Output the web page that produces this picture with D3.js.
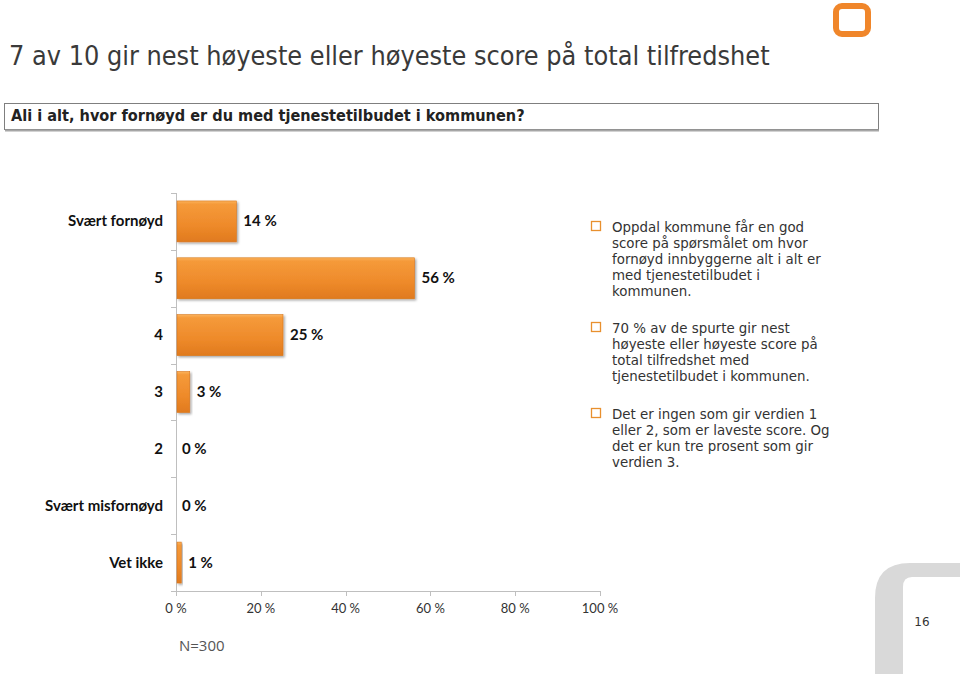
<!DOCTYPE html>
<html><head><meta charset="utf-8">
<script src="https://cdn.jsdelivr.net/npm/d3@7"></script>
<style>body{margin:0;background:#fff}svg{display:block}</style>
</head><body>
<svg id="c" width="960" height="674"></svg>
<script>
const categories = ["Svært fornøyd","5","4","3","2","Svært misfornøyd","Vet ikke"];
const values = [14,56,25,3,0,0,1];
const xTicks = [0,20,40,60,80,100];
const titleText = "7 av 10 gir nest høyeste eller høyeste score på total tilfredshet";
const questionText = "Ali i alt, hvor fornøyd er du med tjenestetilbudet i kommunen?";
const bullets = [
 ["Oppdal kommune får en god","score på spørsmålet om hvor","fornøyd innbyggerne alt i alt er","med tjenestetilbudet i","kommunen."],
 ["70 % av de spurte gir nest","høyeste eller høyeste score på","total tilfredshet med","tjenestetilbudet i kommunen."],
 ["Det er ingen som gir verdien 1","eller 2, som er laveste score. Og","det er kun tre prosent som gir","verdien 3."]
];
const nText = "N=300";
const pageNo = "16";

const svg = d3.select("#c");
const defs = svg.append("defs");
const g = defs.append("linearGradient").attr("id","bar").attr("x1",0).attr("y1",0).attr("x2",0).attr("y2",1);
g.append("stop").attr("offset","0").attr("stop-color","#fbb25a");
g.append("stop").attr("offset","0.08").attr("stop-color","#f59a3a");
g.append("stop").attr("offset","0.6").attr("stop-color","#ee8a2a");
g.append("stop").attr("offset","1").attr("stop-color","#e07a1e");
const f = defs.append("filter").attr("id","sh").attr("x","-10%").attr("y","-20%").attr("width","130%").attr("height","160%");
f.append("feDropShadow").attr("dx",1.5).attr("dy",1.5).attr("stdDeviation",1.2).attr("flood-color","#000").attr("flood-opacity",0.35);

// logo
svg.append("rect").attr("x",836).attr("y",6).attr("width",32).attr("height",28).attr("rx",6)
  .attr("fill","none").attr("stroke","#f0862a").attr("stroke-width",6);

// title
const t = svg.append("text").attr("x",9).attr("y",65).attr("fill","#3a3a3a")
  .style("font-family","'DejaVu Sans Condensed','DejaVu Sans'").style("font-size","26px").text(titleText);
const tw = t.node().getComputedTextLength();
t.style("font-size",(26*761/tw)+"px");

// question box
svg.append("rect").attr("x",4.5).attr("y",103.5).attr("width",874).attr("height",26)
  .attr("fill","#fff").attr("stroke","#7f7f7f").attr("stroke-width",1);
svg.append("line").attr("x1",5).attr("x2",879).attr("y1",130.5).attr("y2",130.5).attr("stroke","#a6a6a6").attr("stroke-width",2);
const q = svg.append("text").attr("x",11).attr("y",121).attr("fill","#222")
  .style("font-family","'Liberation Sans Narrow','DejaVu Sans Condensed'").style("font-weight","bold").style("font-size","15px").text(questionText);
const qw = q.node().getComputedTextLength();
q.style("font-size",(15*514/qw)+"px");

// chart
const x = d3.scaleLinear().domain([0,100]).range([176,600]);
const y = d3.scaleBand().domain(categories).range([193,591]).paddingInner(0.28).paddingOuter(0.14);
const axisColor = "#bfbfbf";
svg.append("line").attr("x1",176.5).attr("x2",176.5).attr("y1",193).attr("y2",591).attr("stroke",axisColor);
svg.append("line").attr("x1",176).attr("x2",600).attr("y1",591.5).attr("y2",591.5).attr("stroke",axisColor);
const step = y.step();
for(let i=0;i<=categories.length;i++){
  const yy = Math.round(193 + i*step)+0.5;
  svg.append("line").attr("x1",171).attr("x2",176).attr("y1",yy).attr("y2",yy).attr("stroke",axisColor);
}
svg.selectAll(".xt").data(xTicks).enter().append("line")
  .attr("x1",d=>Math.round(x(d))+0.5).attr("x2",d=>Math.round(x(d))+0.5).attr("y1",591).attr("y2",596).attr("stroke",axisColor);
svg.selectAll(".xl").data(xTicks).enter().append("text")
  .attr("x",d=>x(d)).attr("y",613).attr("text-anchor","middle").attr("fill","#333")
  .style("font-family","Lato").style("font-size","13px").text(d=>d+" %");

const data = categories.map((c,i)=>({c,v:values[i]}));
svg.selectAll(".bar").data(data.filter(d=>d.v>0)).enter().append("rect")
  .attr("x",x(0)+1).attr("y",d=>y(d.c)).attr("width",d=>x(d.v)-x(0)).attr("height",y.bandwidth())
  .attr("fill","url(#bar)").attr("stroke","#d9761a").attr("stroke-width",0.6).attr("filter","url(#sh)");
svg.selectAll(".vl").data(data).enter().append("text")
  .attr("x",d=>x(d.v)+ (d.v>0?8:6)).attr("y",d=>y(d.c)+y.bandwidth()/2+5).attr("fill","#111")
  .style("font-family","Lato").style("font-weight","bold").style("font-size","15px").text(d=>d.v+" %");
svg.selectAll(".cl").data(data).enter().append("text")
  .attr("x",163).attr("y",d=>y(d.c)+y.bandwidth()/2+5).attr("text-anchor","end").attr("fill","#111")
  .style("font-family","Lato").style("font-weight","bold").style("font-size","15px").text(d=>d.c);

svg.append("text").attr("x",179).attr("y",651).attr("fill","#555")
  .style("font-family","'Open Sans'").style("font-size","15px").text(nText);

// bullets
const starts = [232, 333, 419];
bullets.forEach((lines,bi)=>{
  const y0 = starts[bi];
  svg.append("rect").attr("x",591.5).attr("y",y0-10.5).attr("width",9).attr("height",9)
    .attr("fill","none").attr("stroke","#e8902e").attr("stroke-width",1.3);
  lines.forEach((ln,li)=>{
    svg.append("text").attr("x",612).attr("y",y0+li*16).attr("fill","#333")
      .style("font-family","'DejaVu Sans'").style("font-size","13.4px").text(ln);
  });
});

// corner decoration
svg.append("path").attr("d","M875,674 L875,598 Q875,563 910,563 L960,563 L960,577 L912,577 Q903,577 903,587 L903,674 Z")
  .attr("fill","#d9d9d9");
svg.append("text").attr("x",922).attr("y",626).attr("text-anchor","middle").attr("fill","#333")
  .style("font-family","'DejaVu Sans'").style("font-size","12px").text(pageNo);
</script>
</body></html>
